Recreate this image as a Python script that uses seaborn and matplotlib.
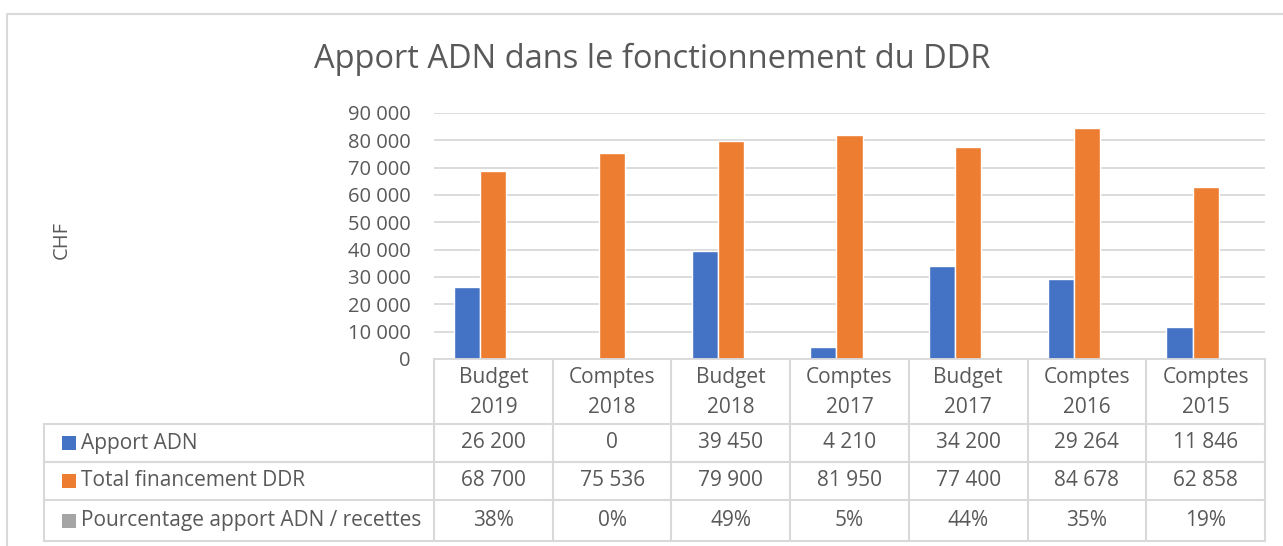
import pandas as pd
import matplotlib.pyplot as plt
import seaborn as sns
from matplotlib.ticker import FuncFormatter, MultipleLocator

# ---- data ----
categories = ["Budget\n2019", "Comptes\n2018", "Budget\n2018", "Comptes\n2017",
              "Budget\n2017", "Comptes\n2016", "Comptes\n2015"]
series_names = ["Apport ADN", "Total financement DDR", "Pourcentage apport ADN / recettes"]
apport_adn = [26200, 0, 39450, 4210, 34200, 29264, 11846]
total_ddr = [68700, 75536, 79900, 81950, 77400, 84678, 62858]
pourcentage = [38, 0, 49, 5, 44, 35, 19]

colors = ["#4472C4", "#ED7D31", "#A5A5A5"]
TXT = "#595959"
GRID = "#D9D9D9"

sns.set_theme(style="white")
plt.rcParams["font.family"] = ["Open Sans", "DejaVu Sans"]

# long table for seaborn; percentage series plotted on the same axis (as in Excel)
df = pd.DataFrame({
    "cat": categories * 3,
    "serie": [series_names[0]] * 7 + [series_names[1]] * 7 + [series_names[2]] * 7,
    "val": apport_adn + total_ddr + [p / 100 for p in pourcentage],
})

W, H = 1283, 546
fig = plt.figure(figsize=(W / 100, H / 100), dpi=100)

# pixel layout
px_left, px_right = 434, 1265
px_top, px_zero = 113, 359
ax = fig.add_axes([px_left / W, 1 - px_zero / H, (px_right - px_left) / W, (px_zero - px_top) / H])

sns.barplot(data=df, x="cat", y="val", hue="serie", hue_order=series_names,
            palette=colors, width=0.66, gap=0, ax=ax, legend=False, saturation=1)

ax.set_ylim(0, 90000)
ax.set_xlim(-0.5, 6.5)
ax.yaxis.set_major_locator(MultipleLocator(10000))
ax.yaxis.set_major_formatter(FuncFormatter(lambda v, p: f"{v:,.0f}".replace(",", " ")))
ax.grid(axis="y", color=GRID, lw=1.3)
ax.set_axisbelow(True)
ax.set_xlabel("")
ax.set_ylabel("")
ax.set_xticks([])
ax.tick_params(axis="y", length=0, pad=17, labelsize=14.5, labelcolor=TXT)
for s in ["top", "right", "left"]:
    ax.spines[s].set_visible(False)
ax.spines["bottom"].set_color(GRID)
ax.spines["bottom"].set_linewidth(1.3)

# ---- data table below the plot ----
tab_left, tab_bottom = 44, 541
tax = fig.add_axes([0, 0, 1, 1])
tax.set_xlim(0, W)
tax.set_ylim(H, 0)
tax.axis("off")
tax.patch.set_alpha(0)

col_w = (px_right - px_left) / len(categories)
row_lines = [px_zero, 424, 462, 500, tab_bottom]
lkw = dict(color=GRID, lw=1.5)

for y in row_lines[1:]:
    tax.plot([tab_left, px_right], [y, y], **lkw)
for i in range(len(categories) + 1):
    x = px_left + i * col_w
    tax.plot([x, x], [px_zero, tab_bottom], **lkw)
tax.plot([tab_left, tab_left], [row_lines[1], tab_bottom], **lkw)

for i, c in enumerate(categories):
    xc = px_left + (i + 0.5) * col_w
    tax.text(xc, (px_zero + row_lines[1]) / 2 + 1, c, ha="center", va="center",
             fontsize=15, color=TXT, linespacing=1.55)
    rows = [f"{apport_adn[i]:,}".replace(",", " "),
            f"{total_ddr[i]:,}".replace(",", " "),
            f"{pourcentage[i]}%"]
    for r, txt in enumerate(rows):
        yc = (row_lines[r + 1] + row_lines[r + 2]) / 2
        tax.text(xc, yc, txt, ha="center", va="center", fontsize=15, color=TXT)

for r, name in enumerate(series_names):
    yc = (row_lines[r + 1] + row_lines[r + 2]) / 2
    tax.add_patch(plt.Rectangle((62, yc - 7), 14, 14, color=colors[r], lw=0))
    tax.text(81, yc, name, ha="left", va="center", fontsize=15, color=TXT)

# chart border
tax.plot([7, 7, W], [H, 14, 14], color=GRID, lw=1.5)

# titles
fig.text(652 / W, 1 - 59 / H, "Apport ADN dans le fonctionnement du DDR",
         ha="center", va="center", fontsize=23.5, color=TXT)
fig.text(62 / W, 1 - 240 / H, "CHF", rotation=90, ha="center", va="center",
         fontsize=14.5, color=TXT)

fig.savefig("out.png", dpi=100)
